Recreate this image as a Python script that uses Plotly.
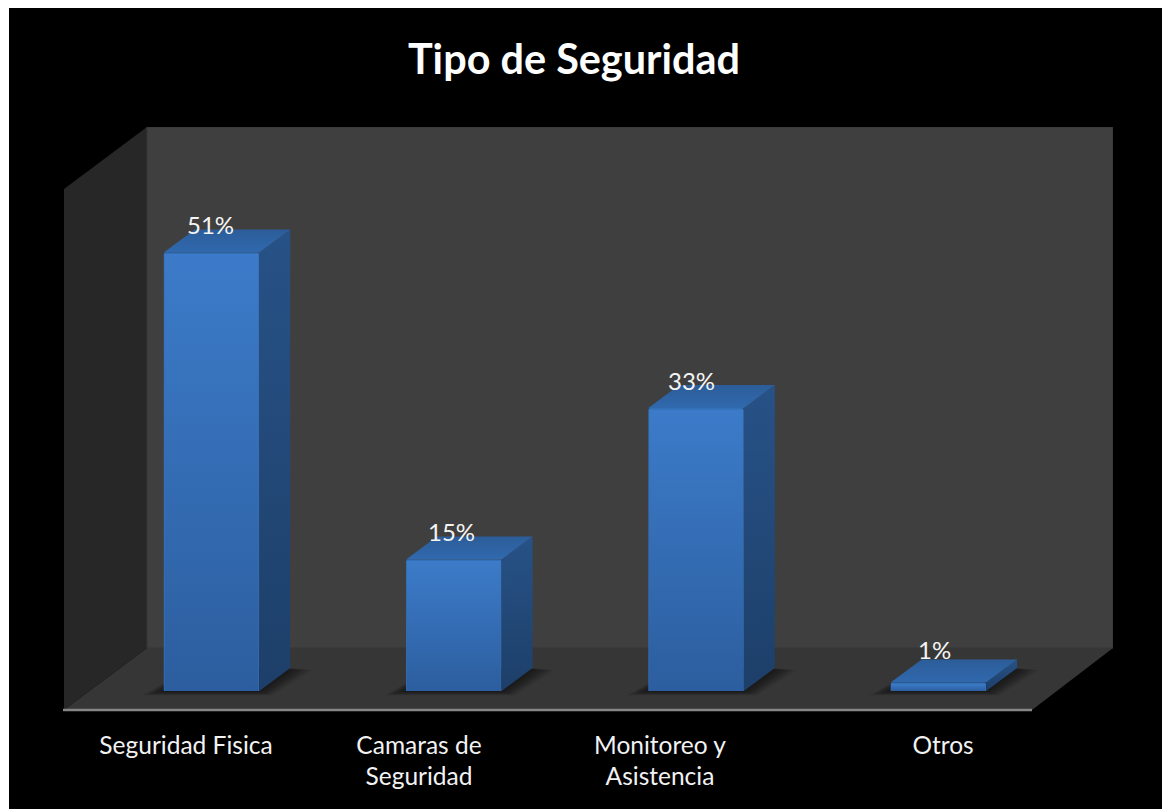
import plotly.graph_objects as go

# values
categories = ["Seguridad Fisica", "Camaras de<br>Seguridad", "Monitoreo y<br>Asistencia", "Otros"]
values = [51, 15.3, 32.9, 1]
value_labels = ["51%", "15%", "33%", "1%"]
title = "Tipo de Seguridad"

# layout of the fake 3d box, in screenshot pixels
page_off = 8  # body margin of the page
box_l, box_r, box_t, box_b = 64, 1113, 127, 710
base_y = 691  # pixel of value 0
px_per_pct = 8.6
first_bar = 211.5
bar_step = 242.3
bar_w = 0.394
depth_px = (31, 23)
label_px = [186, 419, 660, 943]
value_dx = [-1.5, -2, -5, -4]
value_dy = [28, 28, 28, 33]


def xa(px):
    return (px - first_bar) / bar_step


def ya(py):
    return (base_y - py) / px_per_pct


def poly(points):
    return "M " + " L ".join(f"{xa(a)},{ya(b)}" for a, b in points) + " Z"


dx = depth_px[0] / bar_step
dy = depth_px[1] / px_per_pct
x_pos = list(range(len(values)))

fig = go.Figure()

fig.add_trace(go.Bar(x=x_pos, y=values, width=bar_w, marker_color="#3270b8",
                     marker_line_width=0, showlegend=False, hoverinfo="skip"))

for x, v in zip(x_pos, values):
    x0, x1 = x - bar_w / 2, x + bar_w / 2
    inset = 0.8 / bar_step
    top = v - 1.6 / px_per_pct
    # front gradient
    fig.add_trace(go.Scatter(x=[x0 + inset, x1 - inset, x1 - inset, x0 + inset], y=[0, 0, top, top],
                             mode="lines", line_width=0, fill="toself", showlegend=False, hoverinfo="skip",
                             fillgradient=dict(type="vertical", colorscale=[[0, "#2c5e9f"], [1, "#3c7bc9"]])))
    # side
    fig.add_trace(go.Scatter(x=[x1, x1 + dx, x1 + dx, x1], y=[0, dy, v + dy, v],
                             mode="lines", line_width=0, fill="toself", showlegend=False, hoverinfo="skip",
                             fillgradient=dict(type="vertical", colorscale=[[0, "#1d3f69"], [1, "#275287"]])))
    # top
    fig.add_trace(go.Scatter(x=[x0, x1, x1 + dx, x0 + dx], y=[v, v, v + dy, v + dy],
                             mode="lines", line_width=0, fill="toself", showlegend=False, hoverinfo="skip",
                             fillgradient=dict(type="vertical", colorscale=[[0, "#3069ae"], [1, "#2c5d99"]])))

shapes = [
    dict(type="path", path=poly([(box_l, 189), (147, box_t), (147, 648), (box_l, box_b)]),
         fillcolor="#272727", line_width=0, layer="below"),
    dict(type="path", path=poly([(147, box_t), (box_r, box_t), (box_r, 648), (147, 648)]),
         fillcolor="#3f3f3f", line=dict(color="#363636", width=1), layer="below"),
    dict(type="path", path=poly([(box_l, box_b), (147, 648), (box_r, 648), (1032, box_b)]),
         fillcolor="#363636", line_width=0, layer="below"),
    # paper refs so the axis line is not clipped at the plot edge
    dict(type="line", xref="paper", yref="paper", x0=(63 - box_l) / (box_r - box_l),
         x1=(1032 - box_l) / (box_r - box_l), y0=0, y1=0,
         line=dict(color="#868686", width=2.5), layer="above"),
    # the reference has one more pixel of white on its left edge
    dict(type="rect", xref="paper", yref="paper", x0=-(box_l - page_off) / (box_r - box_l),
         x1=-(box_l - page_off - 1) / (box_r - box_l), y0=-1, y1=2, fillcolor="#ffffff", line_width=0, layer="above"),
]

# soft floor shadows round each bar foot
for x in x_pos:
    left = first_bar + x * bar_step - bar_w * bar_step / 2
    right = left + bar_w * bar_step
    for grow in range(2, 24, 2):
        shapes.append(dict(
            type="path",
            path=poly([(left - grow, base_y + grow * 0.2), (right + grow * 0.6, base_y + grow * 0.2),
                       (right + depth_px[0] + grow, base_y - depth_px[1] + grow * 0.1),
                       (left + depth_px[0], base_y - depth_px[1] - grow * 0.1)]),
            fillcolor="rgba(0,0,0,0.055)", line_width=0, layer="below"))

annotations = [
    dict(x=x + d / bar_step, y=v, text=t, showarrow=False, yshift=s, yanchor="middle", xanchor="center",
         font=dict(family="Lato", size=24, color="#f4f4f4"))
    for x, v, t, d, s in zip(x_pos, values, value_labels, value_dx, value_dy)
]

fig.update_layout(
    width=1162,
    height=801,
    margin=dict(l=box_l - page_off, r=1162 + page_off - box_r, t=box_t - page_off, b=801 + page_off - box_b,
                pad=0, autoexpand=False),
    paper_bgcolor="#000000",
    plot_bgcolor="rgba(0,0,0,0)",
    barcornerradius=2,
    title=dict(text=f"<b>{title}</b>", x=(574 - page_off) / 1162, xanchor="center", y=1 - (60 - page_off) / 801,
               yanchor="middle", font=dict(family="Lato", size=41.4, color="#ffffff")),
    shapes=shapes,
    annotations=annotations,
    showlegend=False,
)
fig.update_xaxes(range=[xa(box_l), xa(box_r)], tickvals=[xa(p) for p in label_px], ticktext=categories,
                 showgrid=False, zeroline=False, showline=False, ticks="", ticklabelstandoff=18,
                 tickfont=dict(family="Lato", size=24.5, color="#f2f2f2"))
fig.update_yaxes(range=[ya(box_b), ya(box_t)], showgrid=False, zeroline=False, showline=False,
                 showticklabels=False, ticks="")

fig.write_html("out.html")
